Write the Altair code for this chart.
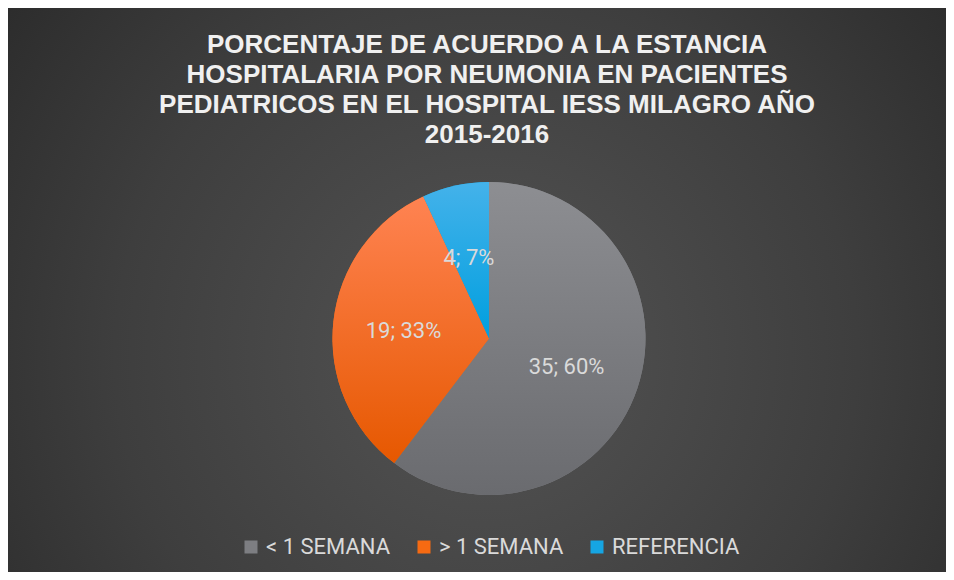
import altair as alt
import pandas as pd

categories = ["< 1 SEMANA", "> 1 SEMANA", "REFERENCIA"]
values = [35, 19, 4]
order = [1, 2, 3]
colors = ["#7d7e82", "#f66a12", "#16a5e2"]
title_lines = [
    "PORCENTAJE DE ACUERDO A LA ESTANCIA",
    "HOSPITALARIA POR NEUMONIA EN PACIENTES",
    "PEDIATRICOS EN EL HOSPITAL IESS MILAGRO AÑO",
    "2015-2016",
]

df = pd.DataFrame({"cat": categories, "v": values, "ord": order})

W, H = 938, 564
CX, CY = 481, 330.5
R = 156.5


def vgrad(top, bottom):
    return {
        "gradient": "linear",
        "x1": 0, "y1": 0, "x2": 0, "y2": 1,
        "stops": [{"offset": 0, "color": top}, {"offset": 1, "color": bottom}],
    }


grads = [vgrad("#8d8e92", "#6a6b6f"), vgrad("#ff8352", "#e65800"), vgrad("#44b2ea", "#009fdf")]

bg_grad = {
    "gradient": "radial",
    "x1": 0.51, "y1": 0.57, "r1": 0,
    "x2": 0.51, "y2": 0.57, "r2": 0.72,
    "stops": [
        {"offset": 0, "color": "#545454"},
        {"offset": 0.55, "color": "#3e3e3e"},
        {"offset": 1, "color": "#262626"},
    ],
}

base = alt.Chart(df).transform_joinaggregate(total="sum(v)").transform_calculate(
    label="datum.v + '; ' + round(100 * datum.v / datum.total) + '%'"
)

background = alt.Chart(pd.DataFrame({"k": [0]})).mark_rect(fill=bg_grad).encode(
    x=alt.value(0), x2=alt.value(W), y=alt.value(0), y2=alt.value(H)
)

theta = alt.Theta("v:Q", stack=True)

arcs_legend = base.mark_arc(radius=R).encode(
    theta=theta,
    order=alt.Order("ord:Q"),
    x=alt.value(CX),
    y=alt.value(CY),
    color=alt.Color(
        "cat:N",
        scale=alt.Scale(domain=categories, range=colors),
        legend=alt.Legend(title=None),
    ),
)

arcs_grad = base.mark_arc(radius=R).encode(
    theta=theta,
    order=alt.Order("ord:Q"),
    x=alt.value(CX),
    y=alt.value(CY),
    fill={
        "condition": [
            {"test": f"datum.cat === '{categories[0]}'", "value": grads[0]},
            {"test": f"datum.cat === '{categories[1]}'", "value": grads[1]},
        ],
        "value": grads[2],
    },
)

labels = base.mark_text(
    radius=84, fontSize=22, font="Roboto", color="#dadada"
).encode(
    theta=theta,
    order=alt.Order("ord:Q"),
    x=alt.value(CX - 2),
    y=alt.value(CY + 2),
    text="label:N",
)

chart = (
    alt.layer(background, arcs_legend, arcs_grad, labels)
    .properties(
        width=W,
        height=H,
        padding=0,
        autosize=alt.AutoSizeParams(type="none"),
        background="#2b2b2b",
        title=alt.TitleParams(
            text=title_lines,
            fontSize=26,
            font="Liberation Sans",
            fontWeight="bold",
            color="#f0f0f0",
            lineHeight=30,
            anchor="middle",
            frame="group",
            offset=-140,
            dx=10,
        ),
    )
    .configure_view(strokeWidth=0)
    .configure_legend(
        orient="none",
        legendX=232,
        legendY=528,
        direction="horizontal",
        symbolType="square",
        symbolSize=169,
        symbolStrokeWidth=0,
        symbolOpacity=1,
        labelFontSize=22,
        labelFont="Roboto",
        labelColor="#dadada",
        labelOffset=4,
        columnPadding=22,
        labelLimit=300,
    )
)

chart.save("out.html", embed_options={"renderer": "svg", "actions": False})
